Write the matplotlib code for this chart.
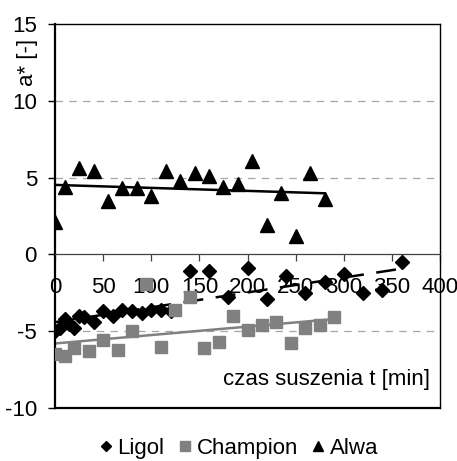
import numpy as np
import matplotlib
matplotlib.use("Agg")
import matplotlib.pyplot as plt
from matplotlib.lines import Line2D

plt.rcParams["font.family"] = ["Liberation Sans", "DejaVu Sans"]
plt.rcParams["axes.unicode_minus"] = False

# drying time [min] and a* values
ligol_t = [0, 5, 10, 15, 20, 25, 30, 40, 50, 60, 70, 80, 90, 100, 110, 120,
           140, 160, 180, 200, 220, 240, 260, 280, 300, 320, 340, 360]
ligol_a = [-5.0, -4.8, -4.2, -4.5, -4.8, -4.0, -4.1, -4.4, -3.7, -4.0, -3.6, -3.7,
           -3.8, -3.6, -3.6, -3.7, -1.1, -1.1, -2.8, -0.9, -2.9, -1.4, -2.5, -1.8,
           -1.3, -2.5, -2.3, -0.5]

champion_t = [0, 10, 20, 35, 50, 65, 80, 95, 110, 125, 140, 155, 170, 185, 200,
              215, 230, 245, 260, 275, 290]
champion_a = [-6.5, -6.6, -6.1, -6.3, -5.6, -6.2, -5.0, -1.9, -6.0, -3.6, -2.8,
              -6.1, -5.7, -4.0, -4.9, -4.6, -4.4, -5.8, -4.8, -4.6, -4.1]

alwa_t = [0, 10, 25, 40, 55, 70, 85, 100, 115, 130, 145, 160, 175, 190, 205,
          220, 235, 250, 265, 280]
alwa_a = [2.1, 4.4, 5.6, 5.4, 3.5, 4.3, 4.3, 3.8, 5.4, 4.8, 5.3, 5.1, 4.4, 4.6,
          6.1, 1.9, 4.0, 1.2, 5.3, 3.6]

GRAY = "#808080"
FS = 16

fig = plt.figure(figsize=(4.57, 4.61), dpi=100)
ax = fig.add_axes([0.1204, 0.115, 0.8424, 0.833])

ax.set_xlim(0, 400)
ax.set_ylim(-10, 15)

# dashed grid lines
for yv in (-5, 5, 10):
    ax.axhline(yv, color="#a6a6a6", lw=0.9, ls=(0, (6, 5)), zorder=0)


def trend(t, a):
    k, b = np.polyfit(t, a, 1)
    xs = np.array([min(t), max(t)])
    return xs, k * xs + b


xs, ys = trend(ligol_t, ligol_a)
ax.plot(xs, ys, color="black", lw=1.8, ls=(0, (8, 5)), zorder=2)
xs, ys = trend(champion_t, champion_a)
ax.plot(xs, ys, color=GRAY, lw=1.8, zorder=2)
xs, ys = trend(alwa_t, alwa_a)
ax.plot(xs, ys, color="black", lw=1.8, zorder=2)

ax.plot(ligol_t, ligol_a, ls="none", marker="D", ms=7, color="black", zorder=3)
ax.plot(champion_t, champion_a, ls="none", marker="s", ms=8, color=GRAY, zorder=3)
ax.plot(alwa_t, alwa_a, ls="none", marker="^", ms=10, color="black", zorder=3)

# axes look: x axis through zero, box around the plot
ax.spines["bottom"].set_position(("data", 0))
ax.spines["bottom"].set_color("#404040")
ax.spines["bottom"].set_linewidth(0.9)
ax.spines["left"].set_linewidth(1.6)
ax.spines["top"].set_linewidth(1.0)
ax.spines["right"].set_linewidth(1.0)
ax.axhline(-10, color="black", lw=1.6, clip_on=False, zorder=4)

ax.set_xticks(range(0, 401, 50))
ax.set_yticks(range(-10, 16, 5))
ax.tick_params(axis="x", direction="out", length=5, width=0.9, pad=11,
               labelsize=FS, color="#404040")
ax.tick_params(axis="y", direction="out", length=5, width=1.0, pad=8,
               labelsize=FS)

ax.text(0.974, 0.073, "czas suszenia t [min]", transform=ax.transAxes,
        ha="right", va="center", fontsize=FS)
fig.text(27 / 457, 1 - 62 / 461, "a* [-]", rotation=90, ha="center",
         va="center", fontsize=FS)

handles = [
    Line2D([], [], ls="none", marker="D", ms=5.5, color="black"),
    Line2D([], [], ls="none", marker="s", ms=6.5, color=GRAY),
    Line2D([], [], ls="none", marker="^", ms=7, color="black"),
]
fig.legend(handles, ["Ligol", "Champion", "Alwa"], loc="center",
           bbox_to_anchor=(239 / 457, 1 - 448 / 461), ncol=3, frameon=False,
           fontsize=FS, handlelength=0.55, handletextpad=0.25,
           columnspacing=0.65, borderaxespad=0)

fig.savefig("out.png", dpi=100)
